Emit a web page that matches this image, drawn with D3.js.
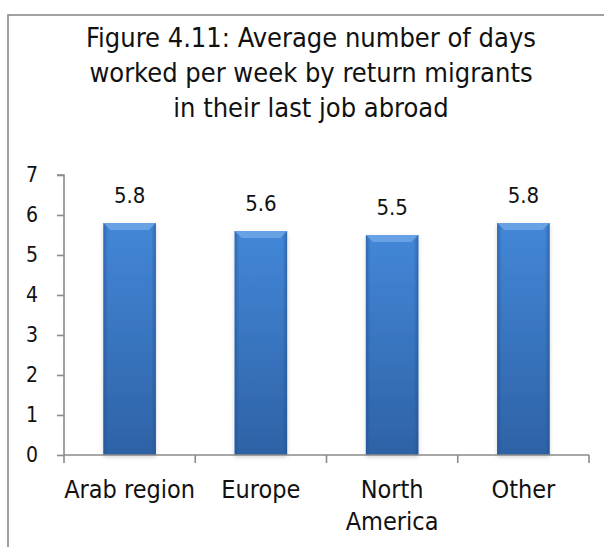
<!DOCTYPE html>
<html>
<head>
<meta charset="utf-8">
<script src="https://cdn.jsdelivr.net/npm/d3@7"></script>
<style>
  html, body { margin: 0; padding: 0; background: #fff; }
  svg { display: block; }
  text { font-family: "Liberation Sans Narrow", "DejaVu Sans Condensed", "Liberation Sans", sans-serif; fill: #111; }
</style>
</head>
<body>
<svg id="chart" width="604" height="547"></svg>
<script>
const titleLines = ["Figure 4.11: Average number of days", "worked per week by return migrants", "in their last job abroad"];
const categories = ["Arab region", "Europe", "North America", "Other"];
const categoryLines = [["Arab region"], ["Europe"], ["North", "America"], ["Other"]];
const values = [5.8, 5.6, 5.5, 5.8];
const yTicks = [0, 1, 2, 3, 4, 5, 6, 7];

const svg = d3.select("#chart");
const W = 604, H = 547;
const plot = { left: 64, right: 589, top: 175, bottom: 455 };

// frame (clipped on right/bottom like the reference)
svg.append("rect").attr("x", 8).attr("y", 15).attr("width", 620).attr("height", 560)
  .attr("fill", "#fff").attr("stroke", "#8a8a8a").attr("stroke-width", 1.6);

// gradients
const defs = svg.append("defs");
const body = defs.append("linearGradient").attr("id", "barBody").attr("x1", 0).attr("y1", 0).attr("x2", 0).attr("y2", 1);
body.append("stop").attr("offset", "0%").attr("stop-color", "#4387d8");
body.append("stop").attr("offset", "100%").attr("stop-color", "#2e62a6");
const side = defs.append("linearGradient").attr("id", "barSide").attr("x1", 0).attr("y1", 0).attr("x2", 1).attr("y2", 0);
side.append("stop").attr("offset", "0%").attr("stop-color", "#1f4f8f").attr("stop-opacity", 0.55);
side.append("stop").attr("offset", "9%").attr("stop-color", "#1f4f8f").attr("stop-opacity", 0);
side.append("stop").attr("offset", "91%").attr("stop-color", "#1f4f8f").attr("stop-opacity", 0);
side.append("stop").attr("offset", "100%").attr("stop-color", "#1f4f8f").attr("stop-opacity", 0.55);
const shadow = defs.append("filter").attr("id", "shadow").attr("x", "-20%").attr("y", "-10%").attr("width", "140%").attr("height", "125%");
shadow.append("feDropShadow").attr("dx", 0).attr("dy", 2).attr("stdDeviation", 2).attr("flood-color", "#000").attr("flood-opacity", 0.18);

// title
svg.append("g").selectAll("text").data(titleLines).join("text")
  .attr("x", 311).attr("y", (d, i) => 47 + i * 35)
  .attr("text-anchor", "middle").attr("font-size", 27).text(d => d);

// scales
const x = d3.scaleBand().domain(categories).range([plot.left, plot.right]).paddingInner(0.6).paddingOuter(0.3);
const y = d3.scaleLinear().domain([0, 7]).range([plot.bottom, plot.top]);

// bars
const bars = svg.append("g").selectAll("g").data(categories).join("g");
bars.append("rect")
  .attr("x", d => x(d)).attr("y", (d, i) => y(values[i]))
  .attr("width", x.bandwidth()).attr("height", (d, i) => y(0) - y(values[i]))
  .attr("fill", "url(#barBody)").attr("filter", "url(#shadow)");
bars.append("rect")
  .attr("x", d => x(d)).attr("y", (d, i) => y(values[i]))
  .attr("width", x.bandwidth()).attr("height", (d, i) => y(0) - y(values[i]))
  .attr("fill", "url(#barSide)");
// top bevel
bars.append("path")
  .attr("d", (d, i) => {
    const x0 = x(d), x1 = x(d) + x.bandwidth(), t = y(values[i]), b = 7;
    return `M${x0},${t}L${x1},${t}L${x1 - b},${t + b}L${x0 + b},${t + b}Z`;
  })
  .attr("fill", "#6ea6e6").attr("opacity", 0.85);

// value labels
svg.append("g").selectAll("text").data(categories).join("text")
  .attr("x", d => x(d) + x.bandwidth() / 2)
  .attr("y", (d, i) => y(values[i]) - 20)
  .attr("text-anchor", "middle").attr("font-size", 22)
  .text((d, i) => values[i].toFixed(1));

// y axis
const yAxis = svg.append("g").attr("transform", `translate(${plot.left},0)`)
  .call(d3.axisLeft(y).tickValues(yTicks).tickSize(7).tickPadding(19).tickFormat(d3.format("d")));
yAxis.selectAll("path,line").attr("stroke", "#8a8a8a").attr("stroke-width", 1.6);
yAxis.select(".domain").attr("d", `M-7,${plot.top}H0V${plot.bottom}`);
yAxis.selectAll("text").attr("font-size", 21).attr("fill", "#111")
  .style("font-family", "'Liberation Sans Narrow', 'DejaVu Sans Condensed', sans-serif");

// x axis
const boundaries = categories.map(c => x(c) - x.step() * x.paddingInner() / 2 - 0);
const xAxis = svg.append("g");
xAxis.append("line").attr("x1", plot.left).attr("x2", plot.right).attr("y1", plot.bottom).attr("y2", plot.bottom)
  .attr("stroke", "#8a8a8a").attr("stroke-width", 1.6);
const tickX = categories.map(c => x(c) + x.bandwidth() / 2 - x.step() / 2).concat([plot.right]);
xAxis.selectAll("line.tick").data(tickX).join("line").attr("class", "tick")
  .attr("x1", d => d).attr("x2", d => d).attr("y1", plot.bottom).attr("y2", plot.bottom + 8)
  .attr("stroke", "#8a8a8a").attr("stroke-width", 1.6);

// category labels
const cl = svg.append("g").selectAll("text").data(categories).join("text")
  .attr("x", d => x(d) + x.bandwidth() / 2).attr("y", 498)
  .attr("text-anchor", "middle").attr("font-size", 25);
cl.selectAll("tspan").data((d, i) => categoryLines[i]).join("tspan")
  .attr("x", function() { return d3.select(this.parentNode).attr("x"); })
  .attr("dy", (d, j) => j === 0 ? 0 : 32).text(d => d);
</script>
</body>
</html>
